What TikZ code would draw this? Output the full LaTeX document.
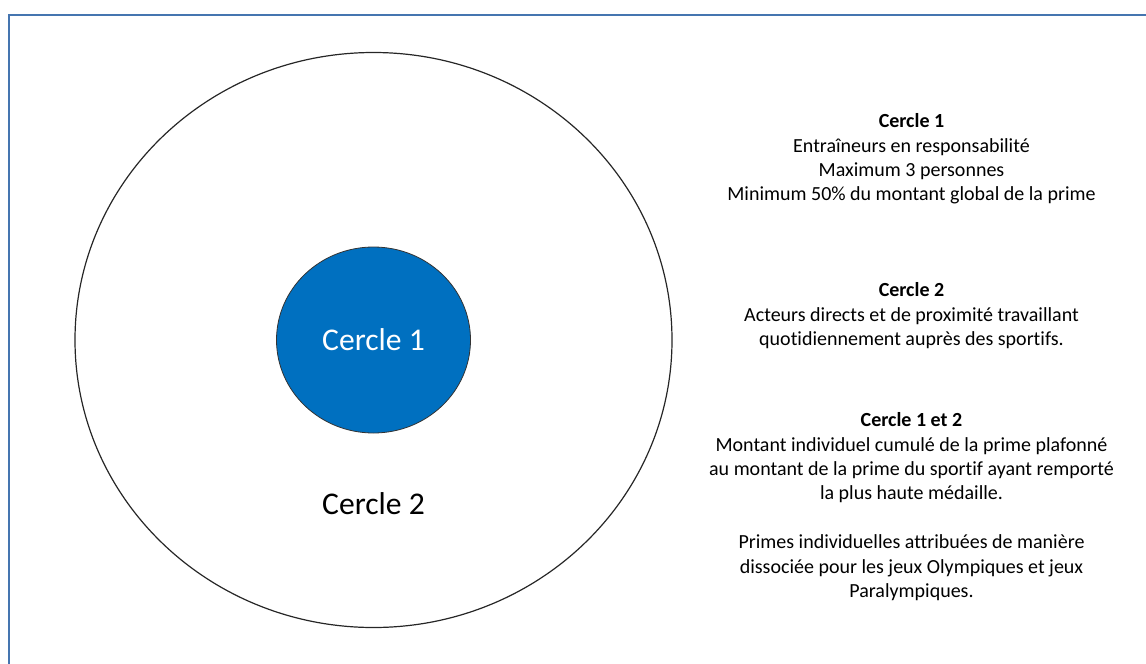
\documentclass[tikz,border=0pt]{standalone}
\usepackage{fontspec}
\setmainfont{Carlito}[Ligatures=NoCommon]
\usetikzlibrary{shapes.geometric}
\definecolor{framecol}{HTML}{4575B0}
\definecolor{innerblue}{HTML}{0070C0}
\tikzset{
  sidetext/.style={anchor=north, align=center, inner sep=0pt, font=\fontsize{20}{24.4}\selectfont},
  bigtext/.style={font=\fontsize{31.6}{36}\selectfont}
}
\begin{document}
\begin{tikzpicture}[x=1pt, y=-1pt]
    \useasboundingbox (0,0) rectangle (1146,664);
    \clip (0,0) rectangle (1146,664);
    \coordinate (c) at (373.5, 340);

    % Frame, runs off the right and bottom edges
    \draw[framecol, line width=2pt] (8.5,14.5) rectangle (1170,690);

    % Circles
    \node[ellipse, draw=black!85, line width=1.2pt, minimum width=597pt, minimum height=575pt, inner sep=0pt] (outer) at (c) {};
    \node[ellipse, draw=black!80, fill=innerblue, line width=0.8pt, minimum width=194pt, minimum height=186pt, inner sep=0pt, text=white, bigtext] (inner) at (c) {Cercle 1};
    \node[bigtext] (lab2) at (373.5, 504) {Cercle 2};

    % Notes on the right
    \node[sidetext] (note1) at (911.5, 113.5) {\textbf{Cercle 1}\\Entraîneurs en responsabilité\\Maximum 3 personnes\\Minimum 50\% du montant global de la prime};
    \node[sidetext] (note2) at (911.5, 282.5) {\textbf{Cercle 2}\\Acteurs directs et de proximité travaillant\\quotidiennement auprès des sportifs.};
    \node[sidetext] (note3) at (911.5, 412.5) {\textbf{Cercle 1 et 2}\\Montant individuel cumulé de la prime plafonné\\au montant de la prime du sportif ayant remporté\\la plus haute médaille.\\[24.4pt]Primes individuelles attribuées de manière\\dissociée pour les jeux Olympiques et jeux\\Paralympiques.};
\end{tikzpicture}
\end{document}
